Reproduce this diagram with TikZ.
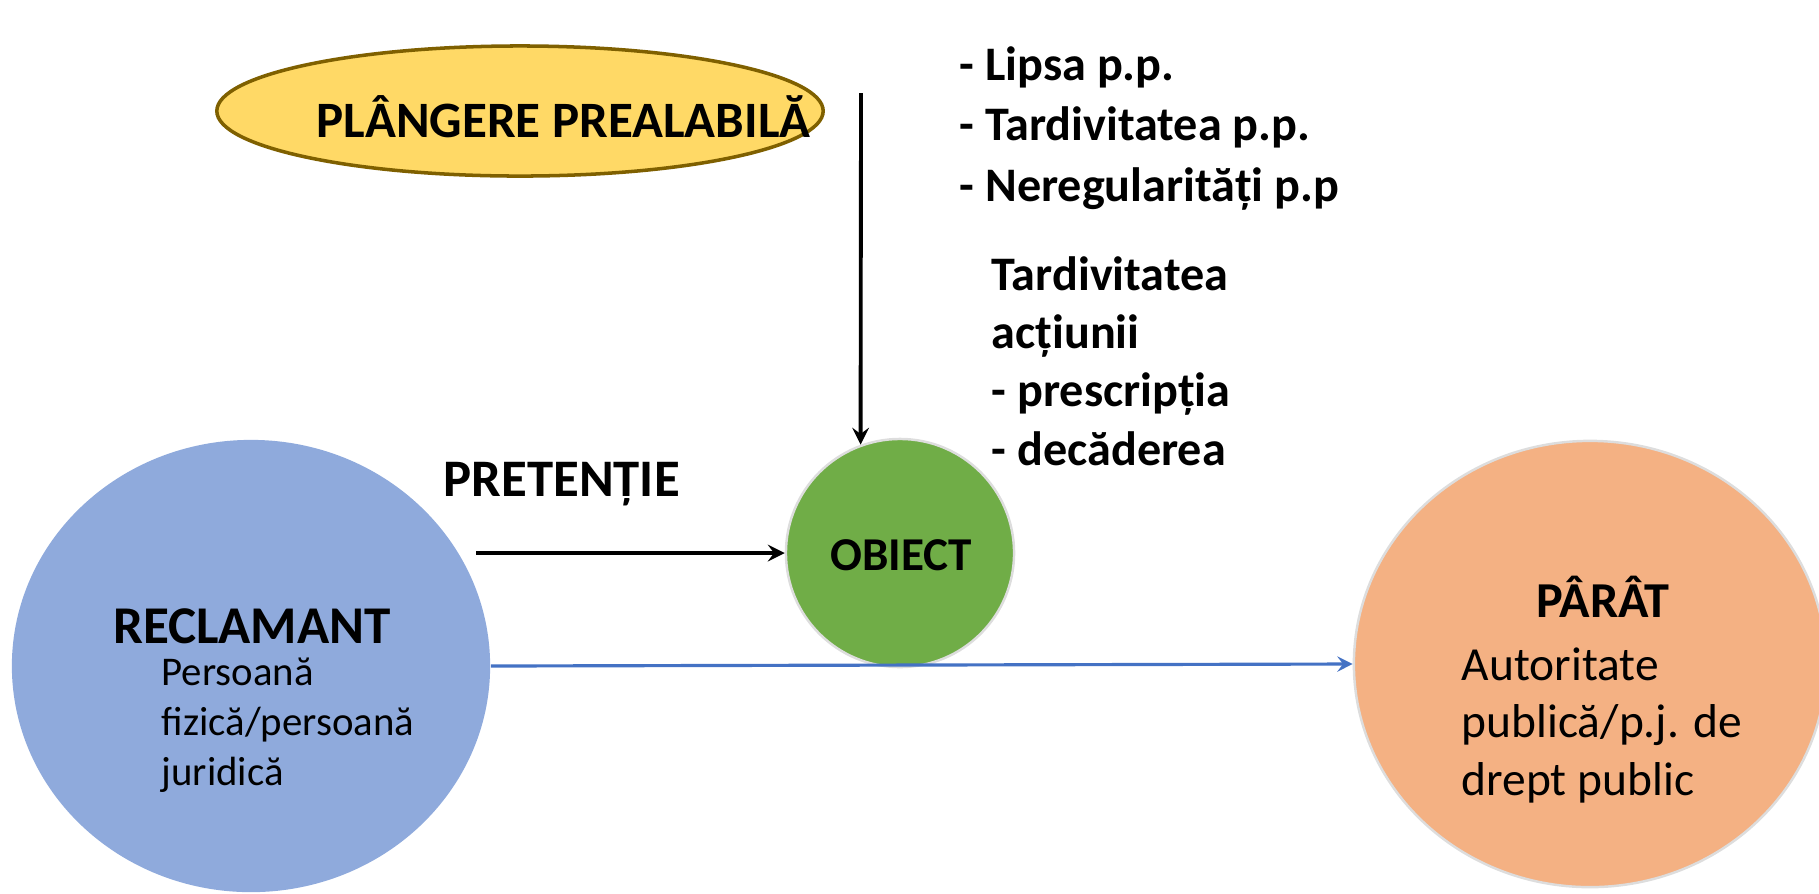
\documentclass[tikz,border=0pt]{standalone}
\usepackage{fontspec}
\setmainfont{Carlito}
\usetikzlibrary{shapes.geometric, positioning}

\definecolor{plangerefill}{HTML}{FFD966}
\definecolor{plangeredraw}{HTML}{7F6000}
\definecolor{obiectfill}{HTML}{70AD47}
\definecolor{reclamantfill}{HTML}{8FAADC}
\definecolor{paratfill}{HTML}{F4B183}
\definecolor{linkblue}{HTML}{4472C4}
\definecolor{rimgray}{HTML}{DDDDDD}

\begin{document}
\begin{tikzpicture}[x=0.01cm, y=-0.01cm,
    bubble/.style={ellipse, inner sep=0pt},
    boldtext/.style={font=\bfseries\fontsize{#1}{#1}\selectfont, inner sep=0pt},
    listtext/.style 2 args={font=\bfseries\fontsize{#1}{#2}\selectfont, align=left, inner sep=0pt, anchor=base west},
    plaintext/.style 2 args={font=\fontsize{#1}{#2}\selectfont, align=left, inner sep=0pt, anchor=base west}]
    \useasboundingbox (0,0) rectangle (1819,893);
        % Shapes
        \node[bubble, fill=plangerefill, draw=plangeredraw, line width=1pt, minimum width=6.06cm, minimum height=1.30cm] (plangere) at (520,111) {};
        \node[bubble, fill=obiectfill, draw=rimgray, line width=0.7pt, minimum width=2.28cm, minimum height=2.28cm] (obiect) at (900,553) {};
        \node[bubble, fill=reclamantfill, minimum width=4.78cm, minimum height=4.52cm] (reclamant) at (251,666) {};
        \node[bubble, fill=paratfill, draw=rimgray, line width=0.7pt, minimum width=4.72cm, minimum height=4.46cm] (parat) at (1590,664) {};
        % Texts in the shapes (multi-line ones sit on their last baseline)
        \node[boldtext=14.5, anchor=base west] (plangeretext) at (316,137) {PLÂNGERE PREALABILĂ};
        \node[boldtext=13.4] (obiecttext) at (901,555) {OBIECT};
        \node[boldtext=15.1, anchor=base] (reclamanttext) at (252,643) {RECLAMANT};
        \node[plaintext={11.6}{14.2}] (reclamantsub) at (161,785) {Persoană\\fizică/persoană\\juridică};
        \node[boldtext=14.3, anchor=base] (parattext) at (1603,617) {PÂRÂT};
        \node[plaintext={13.5}{16.3}] (paratsub) at (1461,795) {Autoritate\\publică/p.j. de\\drept public};
        % Texts beside
        \node[boldtext=15, anchor=base west] (pretentie) at (443,496) {PRETENȚIE};
        \node[listtext={13.7}{17.1}] (lipsuri) at (959,201) {- Lipsa p.p.\\- Tardivitatea p.p.\\- Neregularități p.p};
        \node[listtext={13.7}{16.5}] (tardiv) at (991,465) {Tardivitatea\\acțiunii\\- prescripția\\- decăderea};
        % Arrows
        \coordinate (sus) at (861,93);
        \coordinate (stanga) at (476,553);
        \draw[->, >=stealth, line width=1.1pt] (sus) -- (obiect.110);
        \draw[->, >=stealth, line width=1.1pt] (stanga) -- (obiect.west);
        \draw[->, >=stealth, linkblue, line width=0.9pt] (reclamant.east) -- (parat.west);
    \end{tikzpicture}
\end{document}
